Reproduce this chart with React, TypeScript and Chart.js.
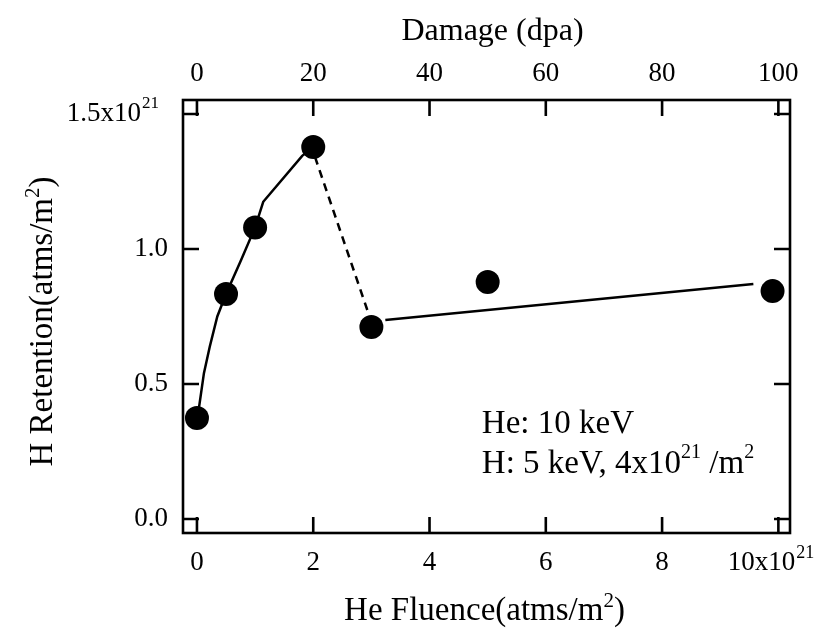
import React, { useEffect, useRef } from 'react';
import { Chart, registerables } from 'chart.js';

Chart.register(...registerables);

// Measured points (He fluence in 1e21 atms/m^2, H retention in 1e21 atms/m^2)
const pointX = [0, 0.5, 1, 2, 3, 5, 9.9];
const pointY = [0.374, 0.833, 1.08, 1.378, 0.711, 0.878, 0.844];

// Hand-drawn guide curve through the first four points
const fitX = [0, 0.04, 0.12, 0.22, 0.35, 0.5, 0.75, 1.0, 1.14, 1.81, 2.0];
const fitY = [0.374, 0.42, 0.54, 0.638, 0.75, 0.833, 0.955, 1.08, 1.175, 1.345, 1.378];

// Dashed drop
const dashX = [2.03, 2.93];
const dashY = [1.341, 0.774];

// Straight trend line
const trendX = [3.24, 9.57];
const trendY = [0.737, 0.87];

// Tick values
const bottomTicks = [0, 2, 4, 6, 8, 10];
const topTicks = [0, 20, 40, 60, 80, 100];
const leftTicks = [0, 0.5, 1.0, 1.5];

const FONT = '"Liberation Serif", "Times New Roman", serif';
const TICK_SIZE = 27;

const toPts = (xs: number[], ys: number[]) => xs.map((x, i) => ({ x, y: ys[i] }));

type Part = [string, boolean];

function richWidth(ctx: CanvasRenderingContext2D, parts: Part[], size: number, sup: number) {
  let w = 0;
  parts.forEach(([t, s]) => {
    ctx.font = `${s ? sup : size}px ${FONT}`;
    w += ctx.measureText(t).width;
  });
  return w;
}

function drawRich(
  ctx: CanvasRenderingContext2D,
  parts: Part[],
  x: number,
  y: number,
  size: number,
  sup: number,
  raise: number,
  align: 'left' | 'center',
  rotation = 0,
) {
  ctx.save();
  ctx.translate(x, y);
  ctx.rotate(rotation);
  ctx.textAlign = 'left';
  ctx.textBaseline = 'alphabetic';
  let cx = align === 'center' ? -richWidth(ctx, parts, size, sup) / 2 : 0;
  parts.forEach(([t, s]) => {
    ctx.font = `${s ? sup : size}px ${FONT}`;
    ctx.fillText(t, cx, s ? -raise : 0);
    cx += ctx.measureText(t).width;
  });
  ctx.restore();
}

const framePlugin = {
  id: 'frameTicks',
  afterDraw(chart: any) {
    const { ctx, chartArea } = chart;
    const { left, right, top, bottom } = chartArea;
    const xs = chart.scales.x;
    const x2 = chart.scales.x2;
    const ys = chart.scales.y;
    const TL = 16;
    ctx.save();
    ctx.strokeStyle = '#000';
    ctx.fillStyle = '#000';
    ctx.lineWidth = 2.6;
    ctx.lineCap = 'butt';
    ctx.strokeRect(left, top, right - left, bottom - top);
    ctx.beginPath();
    bottomTicks.forEach((v) => {
      const p = xs.getPixelForValue(v);
      ctx.moveTo(p, bottom);
      ctx.lineTo(p, bottom - TL);
    });
    topTicks.forEach((v) => {
      const p = x2.getPixelForValue(v);
      ctx.moveTo(p, top);
      ctx.lineTo(p, top + TL);
    });
    leftTicks.forEach((v) => {
      const p = ys.getPixelForValue(v);
      ctx.moveTo(left, p);
      ctx.lineTo(left + TL, p);
      ctx.moveTo(right, p);
      ctx.lineTo(right - TL, p);
    });
    ctx.stroke();

    // superscripts of the exponent tick labels
    const tickFont = `${TICK_SIZE}px ${FONT}`;
    ctx.font = tickFont;
    const bLabel = '10x10     ';
    const bx = xs.getPixelForValue(10) - ctx.measureText(bLabel).width / 2 + ctx.measureText('10x10').width;
    const bBase = bottom + 16.5 + TICK_SIZE / 2 + 9;
    ctx.font = `18px ${FONT}`;
    ctx.textAlign = 'left';
    ctx.textBaseline = 'alphabetic';
    ctx.fillText('21', bx + 1, bBase - 14);

    ctx.font = tickFont;
    const lLabel = '1.5x10    ';
    const lx = left - 15 - ctx.measureText(lLabel).width + ctx.measureText('1.5x10').width;
    const lBase = ys.getPixelForValue(1.5) + 9;
    ctx.font = `17px ${FONT}`;
    ctx.fillText('21', lx + 1, lBase - 15);

    // axis titles
    const cxPlot = (left + right) / 2;
    drawRich(ctx, [['He Fluence(atms/m', false], ['2', true], [')', false]], cxPlot - 2, bottom + 87, 33, 21, 13, 'center');
    drawRich(ctx, [['Damage (dpa)', false]], cxPlot + 6, top - 60, 32, 20, 13, 'center');
    drawRich(
      ctx,
      [['H Retention(atms/m', false], ['2', true], [')', false]],
      52,
      (top + bottom) / 2 + 5,
      33,
      21,
      13,
      'center',
      -Math.PI / 2,
    );

    // annotation text
    const ax = xs.getPixelForValue(4.9);
    const ay1 = ys.getPixelForValue(0.3185);
    const ay2 = ys.getPixelForValue(0.17);
    drawRich(ctx, [['He: 10 keV', false]], ax, ay1, 33, 20, 15, 'left');
    drawRich(
      ctx,
      [['H: 5 keV, 4x10', false], ['21', true], [' /m', false], ['2', true]],
      ax,
      ay2,
      33,
      20,
      15,
      'left',
    );
    ctx.restore();
  },
};

export default function App() {
  const ref = useRef<HTMLCanvasElement | null>(null);
  useEffect(() => {
    if (!ref.current) return;
    const tickFont = { family: FONT, size: TICK_SIZE, lineHeight: 1 };
    const chart = new Chart(ref.current, {
      type: 'scatter',
      data: {
        datasets: [
          {
            data: toPts(pointX, pointY),
            pointRadius: 12,
            pointHoverRadius: 12,
            backgroundColor: '#000',
            borderColor: '#000',
            borderWidth: 0,
            showLine: false,
          },
          {
            data: toPts(fitX, fitY),
            showLine: true,
            pointRadius: 0,
            borderColor: '#000',
            borderWidth: 2.5,
            tension: 0,
          },
          {
            data: toPts(dashX, dashY),
            showLine: true,
            pointRadius: 0,
            borderColor: '#000',
            borderWidth: 2.5,
            borderDash: [8, 6],
          },
          {
            data: toPts(trendX, trendY),
            showLine: true,
            pointRadius: 0,
            borderColor: '#000',
            borderWidth: 2.5,
          },
        ],
      },
      options: {
        responsive: false,
        animation: false,
        events: [],
        layout: { padding: { left: 0, right: 26, top: 0, bottom: 0 } },
        plugins: { legend: { display: false }, tooltip: { enabled: false } },
        scales: {
          x: {
            type: 'linear',
            position: 'bottom',
            min: -0.24,
            max: 10.2,
            afterBuildTicks: (s: any) => {
              s.ticks = bottomTicks.map((v) => ({ value: v }));
            },
            afterFit: (s: any) => {
              s.height = 98;
              s.paddingLeft = 0;
              s.paddingRight = 0;
            },
            grid: { display: false, drawTicks: false },
            border: { display: false },
            ticks: {
              font: tickFont,
              color: '#000',
              padding: 16.5,
              maxRotation: 0,
              autoSkip: false,
              callback: (v: any) => (v === 10 ? '10x10     ' : String(v)),
            },
            title: { display: false },
          },
          x2: {
            type: 'linear',
            position: 'top',
            axis: 'x',
            min: -2.4,
            max: 102,
            afterBuildTicks: (s: any) => {
              s.ticks = topTicks.map((v) => ({ value: v }));
            },
            afterFit: (s: any) => {
              s.height = 100;
              s.paddingLeft = 0;
              s.paddingRight = 0;
            },
            grid: { display: false, drawTicks: false },
            border: { display: false },
            ticks: {
              font: tickFont,
              color: '#000',
              padding: 12.5,
              maxRotation: 0,
              autoSkip: false,
              callback: (v: any) => String(v),
            },
            title: { display: false },
          },
          y: {
            type: 'linear',
            position: 'left',
            min: -0.052,
            max: 1.552,
            afterBuildTicks: (s: any) => {
              s.ticks = leftTicks.map((v) => ({ value: v }));
            },
            afterFit: (s: any) => {
              s.width = 183;
              s.paddingTop = 0;
              s.paddingBottom = 0;
            },
            grid: { display: false, drawTicks: false },
            border: { display: false },
            ticks: {
              font: tickFont,
              color: '#000',
              padding: 15,
              autoSkip: false,
              callback: (v: any) => (v === 1.5 ? '1.5x10    ' : Number(v).toFixed(1)),
            },
            title: { display: false },
          },
        },
      },
      plugins: [framePlugin],
    } as any);
    return () => chart.destroy();
  }, []);

  return (
    <div style={{ position: 'fixed', left: 0, top: 0, width: 816, height: 631 }}>
      <canvas ref={ref} width={816} height={631} style={{ display: 'block' }} />
    </div>
  );
}
